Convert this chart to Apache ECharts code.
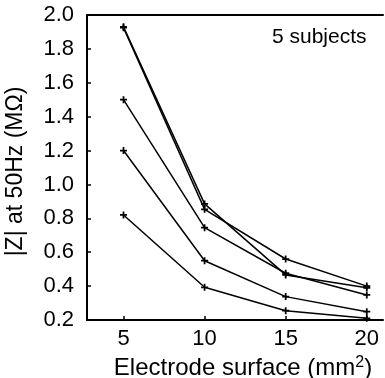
<!DOCTYPE html>
<html>
<head>
<meta charset="utf-8">
<script src="https://cdn.jsdelivr.net/npm/echarts@6/dist/echarts.min.js"></script>
<style>
  html, body { margin: 0; padding: 0; background: #fff; }
  #chart { width: 385px; height: 378px; }
</style>
</head>
<body>
<div id="chart"></div>
<script>
// Electrode surface (mm²) for each measurement
const surfaces = [5, 10, 15, 20];

// |Z| at 50 Hz (MΩ), one array per subject
const subject1 = [1.93, 0.885, 0.466, 0.39];
const subject2 = [1.925, 0.853, 0.56, 0.40];
const subject3 = [1.5, 0.745, 0.476, 0.348];
const subject4 = [1.2, 0.55, 0.338, 0.249];
const subject5 = [0.82, 0.393, 0.255, 0.21];

const subjects = [subject1, subject2, subject3, subject4, subject5];
const xTicks = [5, 10, 15, 20];

const FONT = 'Liberation Sans, Arial, sans-serif';
const crossMark = 'path://M-1,-4L1,-4L1,-1L4,-1L4,1L1,1L1,4L-1,4L-1,1L-4,1L-4,-1L-1,-1Z';

const chart = echarts.init(document.getElementById('chart'), null, { renderer: 'canvas' });

chart.setOption({
  animation: false,
  backgroundColor: '#fff',
  grid: { left: 87, top: 15, right: 2, bottom: 58, containLabel: false, outerBoundsMode: 'none' },
  xAxis: [
    {
      type: 'value',
      min: 2.75,
      max: 21,
      name: 'Electrode surface (mm{sup|2})',
      nameLocation: 'middle',
      nameGap: 34,
      nameTextStyle: {
        color: '#000', fontFamily: FONT, fontSize: 24, padding: [0, 0, 0, 16],
        rich: { sup: { fontSize: 16, verticalAlign: 'top', padding: [0, 0, 10, 0], color: '#000', fontFamily: FONT } }
      },
      splitLine: { show: false },
      axisLine: { onZero: false, lineStyle: { color: '#000', width: 2 } },
      axisTick: { inside: true, length: 4, customValues: xTicks, lineStyle: { color: '#000', width: 1.5 } },
      axisLabel: { customValues: xTicks, color: '#000', fontFamily: FONT, fontSize: 22, margin: 8 }
    },
    {
      type: 'value',
      position: 'top',
      min: 2.75,
      max: 21,
      splitLine: { show: false },
      axisLine: { onZero: false, lineStyle: { color: '#000', width: 2 } },
      axisTick: { show: false },
      axisLabel: { show: false }
    }
  ],
  yAxis: {
    type: 'value',
    min: 0.2,
    max: 2.0,
    interval: 0.2,
    name: '|Z| at 50Hz (MΩ)',
    nameLocation: 'middle',
    nameGap: 60,
    nameTextStyle: { color: '#000', fontFamily: FONT, fontSize: 23, padding: [0, 8, 0, 0] },
    splitLine: { show: false },
    axisLine: { show: true, onZero: false, lineStyle: { color: '#000', width: 2 } },
    axisTick: { show: true, inside: true, length: 4, lineStyle: { color: '#000', width: 1.5 } },
    axisLabel: {
      color: '#000', fontFamily: FONT, fontSize: 22, margin: 13,
      formatter: v => v.toFixed(1)
    }
  },
  graphic: [
    {
      type: 'text',
      left: 272,
      top: 27,
      style: { text: '5 subjects', fill: '#000', font: '21px ' + FONT }
    }
  ],
  series: subjects.map((vals, i) => ({
    name: 'Subject ' + (i + 1),
    type: 'line',
    data: surfaces.map((s, j) => [s, vals[j]]),
    symbol: crossMark,
    symbolSize: 7,
    showSymbol: true,
    lineStyle: { color: '#000', width: 1.5 },
    itemStyle: { color: '#000' },
    z: 3
  }))
});
</script>
</body>
</html>
